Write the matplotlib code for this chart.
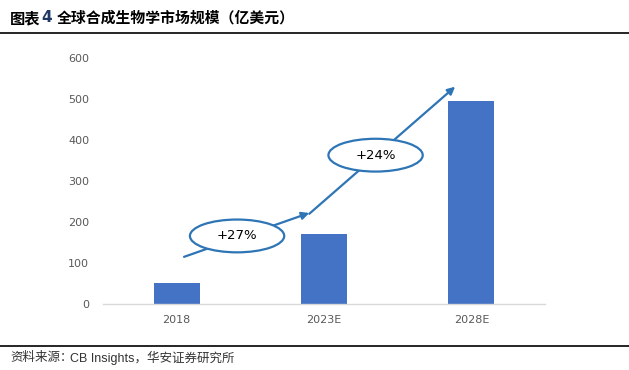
import matplotlib
matplotlib.use("Agg")
import matplotlib.pyplot as plt
from matplotlib.patches import Ellipse

plt.rcParams['font.family'] = ['Noto Sans CJK SC', 'DejaVu Sans']

categories = ["2018", "2023E", "2028E"]
values = [52, 170, 496]
growth_labels = ["+27%", "+24%"]
yticks = [0, 100, 200, 300, 400, 500, 600]

bar_color = "#4472C4"
arrow_color = "#2E75B6"

fig = plt.figure(figsize=(6.29, 3.70), dpi=100)
ax = fig.add_axes([103/629, 1-304/370, 442/629, 246/370])

x = list(range(len(categories)))
ax.bar(x, values, width=0.31, color=bar_color, zorder=2)
ax.set_xlim(-0.5, 2.5)
ax.set_ylim(0, 600)
ax.set_yticks(yticks)
ax.set_xticks(x)
ax.set_xticklabels(categories)
for s in ["top", "right", "left"]:
    ax.spines[s].set_visible(False)
ax.spines["bottom"].set_color("#D9D9D9")
ax.spines["bottom"].set_linewidth(1.0)
ax.tick_params(axis="both", length=0, labelsize=8, labelcolor="#595959",
               labelfontfamily="DejaVu Sans")
ax.tick_params(axis="y", pad=10)
ax.tick_params(axis="x", pad=8)

# growth arrows
ax.annotate("", xy=(0.90, 222), xytext=(0.05, 115),
            arrowprops=dict(arrowstyle="-|>", color=arrow_color, lw=1.6,
                            mutation_scale=11, shrinkA=0, shrinkB=0), zorder=3)
ax.annotate("", xy=(1.89, 530), xytext=(0.90, 220),
            arrowprops=dict(arrowstyle="-|>", color=arrow_color, lw=1.6,
                            mutation_scale=11, shrinkA=0, shrinkB=0), zorder=3)

for (cx, cy), lab in zip([(0.41, 166), (1.35, 363)], growth_labels):
    e = Ellipse((cx, cy), width=0.64, height=80, facecolor="white",
                edgecolor=arrow_color, lw=1.6, zorder=4)
    ax.add_patch(e)
    ax.text(cx, cy, lab, ha="center", va="center", fontsize=9.5,
            color="black", family="DejaVu Sans", zorder=5)

# title
fig.text(10/629, 1-18/370, "图表", fontsize=11, fontweight="bold",
         va="center", ha="left", color="black")
fig.text(41/629, 1-18/370, "4", fontsize=11, fontweight="bold",
         va="center", ha="left", color="#1F3864", family="DejaVu Sans")
fig.text(57/629, 1-18/370, "全球合成生物学市场规模（亿美元）", fontsize=10.7,
         fontweight="bold", va="center", ha="left", color="black")
fig.add_artist(plt.Line2D([0, 1], [1-33/370, 1-33/370], color="black", lw=1.2,
                          transform=fig.transFigure))

# footer
fig.add_artist(plt.Line2D([0, 1], [1-346/370, 1-346/370], color="black", lw=1.2,
                          transform=fig.transFigure))
fig.text(10/629, 1-358/370, "资料来源：", fontsize=9, va="center", ha="left",
         color="#333333")
fig.text(70/629, 1-358/370, "CB Insights，华安证券研究所", fontsize=9,
         va="center", ha="left", color="#333333",
         family=["Liberation Sans", "Noto Sans CJK SC"])

fig.savefig("out.png", dpi=100)
